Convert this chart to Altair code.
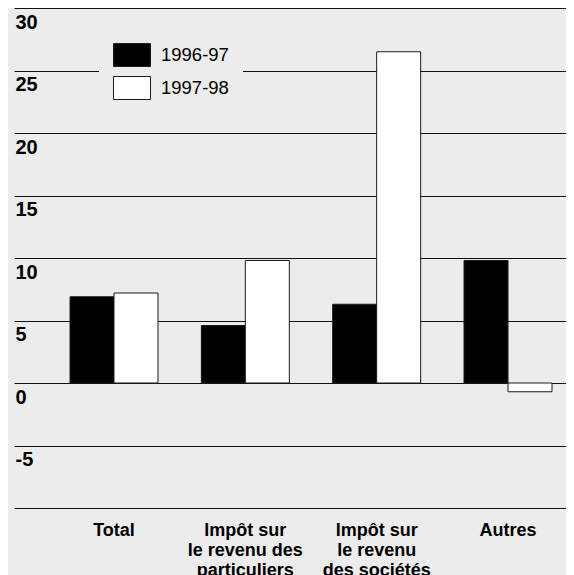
import altair as alt
import pandas as pd

categories = [
    "Total",
    "Impôt sur\nle revenu des\nparticuliers",
    "Impôt sur\nle revenu\ndes sociétés",
    "Autres",
]
series = ["1996-97", "1997-98"]
values_9697 = [6.9, 4.6, 6.3, 9.8]
values_9798 = [7.2, 9.8, 26.5, -0.7]
y_ticks = [-10, -5, 0, 5, 10, 15, 20, 25, 30]

rows = []
for c, a, b in zip(categories, values_9697, values_9798):
    rows.append({"cat": c, "serie": series[0], "val": a})
    rows.append({"cat": c, "serie": series[1], "val": b})
df = pd.DataFrame(rows)

FONT = "Liberation Sans"
BG = "#ececec"

chart = alt.Chart(df).mark_bar(stroke="#1a1a1a", strokeWidth=1).encode(
    x=alt.X(
        "cat:N",
        sort=categories,
        title=None,
        scale=alt.Scale(paddingInner=0.33, paddingOuter=0.2666, align=0.80),
        axis=alt.Axis(
            labelAngle=0,
            labelExpr="split(datum.label, '\\n')",
            labelFont=FONT,
            labelFontSize=18,
            labelFontWeight="bold",
            labelColor="black",
            labelLineHeight=20,
            labelPadding=13,
            labelBaseline="top",
            domain=False,
            ticks=False,
        ),
    ),
    xOffset=alt.XOffset(
        "serie:N", sort=series, scale=alt.Scale(paddingInner=0, paddingOuter=0)
    ),
    y=alt.Y(
        "val:Q",
        title=None,
        scale=alt.Scale(domain=[-10, 30], nice=False, zero=False),
        axis=alt.Axis(
            values=y_ticks,
            grid=True,
            gridColor="#111111",
            gridOpacity=1,
            gridWidth=1.2,
            domain=False,
            ticks=False,
            tickSize=0,
            labelAlign="left",
            labelBaseline="alphabetic",
            labelPadding=-1,
            labelOffset=20,
            labelFont=FONT,
            labelFontSize=20,
            labelFontWeight="bold",
            labelColor="black",
            labelExpr="datum.value == -10 ? '' : '' + datum.value",
        ),
    ),
    color=alt.Color(
        "serie:N",
        sort=series,
        scale=alt.Scale(domain=series, range=["black", "white"]),
        legend=alt.Legend(
            title=None,
            orient="none",
            legendX=85,
            legendY=14,
            fillColor=BG,
            padding=14,
            symbolType="M-1,-0.62H1V0.62H-1Z",
            symbolSize=1369,
            symbolStrokeColor="#1a1a1a",
            symbolStrokeWidth=1,
            symbolOpacity=1,
            labelFont=FONT,
            labelFontSize=18.5,
            labelColor="black",
            labelOffset=10,
            rowPadding=-6,
        ),
    ),
).properties(
    width=552,
    height=500,
    background=BG,
    padding={"left": 6, "top": 0, "right": 0, "bottom": 80},
    autosize=alt.AutoSizeParams(type="none"),
).configure_view(stroke=None)

chart.save("out.html", embed_options={"renderer": "svg", "actions": False})
